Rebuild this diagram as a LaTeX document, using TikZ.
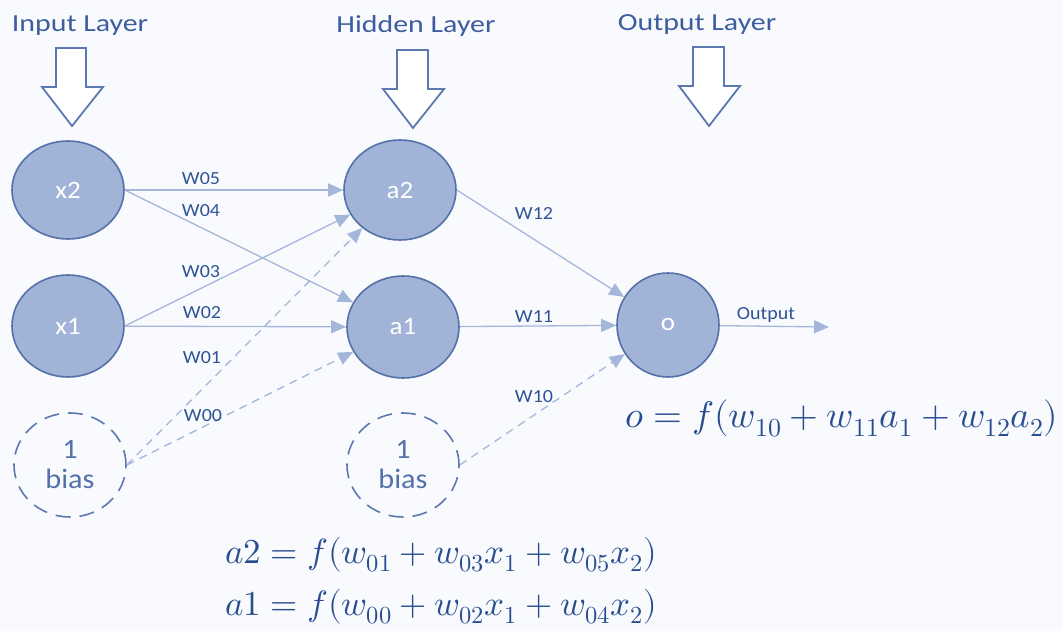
\documentclass[tikz,border=0pt]{standalone}
\usepackage{fontspec}
\usepackage{unicode-math}
\setmainfont{Carlito}
\setmathfont{Latin Modern Math}
\newfontfamily\widefont[FakeStretch=1.22]{Carlito}
\newfontfamily\midfont[FakeStretch=1.08]{Carlito}
\usetikzlibrary{shapes.geometric,arrows.meta}
\definecolor{bgc}{RGB}{249,250,253}
\definecolor{nodefill}{RGB}{161,180,215}
\definecolor{nodedraw}{RGB}{84,113,170}
\definecolor{edgec}{RGB}{164,183,219}
\definecolor{labelc}{RGB}{47,84,150}
\definecolor{titlec}{RGB}{62,93,160}
\definecolor{blockc}{RGB}{92,120,176}
\definecolor{eqc}{RGB}{40,78,145}
\begin{document}
\begin{tikzpicture}[x=1pt,y=-1pt,
  neuron/.style={ellipse, draw=nodedraw, fill=nodefill, line width=1.6pt,
    minimum width=112pt, minimum height=98pt, inner sep=0pt, text=white,
    font=\midfont\fontsize{25}{27}\selectfont},
  outneuron/.style={neuron, minimum width=102pt, minimum height=104pt},
  biasnode/.style={ellipse, draw=blockc, line width=1.6pt,
    dash pattern=on 15pt off 9pt, minimum width=112pt, minimum height=104pt,
    inner sep=0pt, align=center, text=nodedraw,
    font=\midfont\fontsize{28}{30}\selectfont},
  conn/.style={draw=edgec, line width=1.3pt,
    -{Triangle[length=15pt,width=13pt,fill=edgec]}},
  dconn/.style={conn, dash pattern=on 8pt off 6pt},
  wlabel/.style={text=labelc, inner sep=0pt, font=\midfont\fontsize{18.5}{20}\selectfont},
  title/.style={text=titlec, inner sep=0pt, font=\widefont\fontsize{24.5}{26}\selectfont},
  blockarrow/.style={draw=blockc, fill=white, line width=1.8pt, line join=miter},
  eq/.style={text=eqc, inner sep=0pt, anchor=base west}
]
\fill[bgc] (0,0) rectangle (1063,631);
\useasboundingbox (0,0) rectangle (1063,631);

% titles
\node[title] (tin) at (80,26) {Input Layer};
\node[title] (thid) at (416,26) {Hidden Layer};
\node[title] (tout) at (697,25) {Output Layer};

% block arrows
\draw[blockarrow] (56,48) -- (86,48) -- (86,87) -- (103,87) -- (72,126) -- (42,87) -- (56,87) -- cycle;
\draw[blockarrow] (397,50) -- (428,50) -- (428,89) -- (444,89) -- (413,128) -- (383,89) -- (397,89) -- cycle;
\draw[blockarrow] (693,47) -- (724,47) -- (724,86) -- (740,86) -- (709,126) -- (679,86) -- (693,86) -- cycle;

% nodes
\node[neuron] (x2) at (68,190) {x2};
\node[neuron, minimum height=102pt] (x1) at (68,326) {x1};
\node[biasnode] (b1) at (70,465) {1\\bias};
\node[neuron, minimum height=100pt] (a2) at (400,190) {a2};
\node[neuron, minimum height=102pt] (a1) at (403,327) {a1};
\node[biasnode] (b2) at (403,465) {1\\bias};
\node[outneuron] (o) at (668,325) {o};
\coordinate (outend) at (829,327);

% connectors
\draw[conn] (x2) -- (a2);
\draw[conn] (x2.east) -- (a1);
\draw[conn] (x1.east) -- (a2);
\draw[conn] (x1) -- (a1);
\draw[dconn] (b1.east) -- (a2);
\draw[dconn] (b1.east) -- (a1);
\draw[conn] (a2.east) -- (o);
\draw[conn] (a1) -- (o);
\draw[dconn] (b2.east) -- (o);
\draw[conn] (o) -- (outend);

% weight labels
\node[wlabel] (w05) at (201,179) {W05};
\node[wlabel] (w04) at (201,211) {W04};
\node[wlabel] (w03) at (201,272) {W03};
\node[wlabel] (w02) at (202,313) {W02};
\node[wlabel] (w01) at (202,358) {W01};
\node[wlabel] (w00) at (203,416) {W00};
\node[wlabel] (w12) at (534,213) {W12};
\node[wlabel] (w11) at (534,317) {W11};
\node[wlabel] (w10) at (534,397) {W10};
\node[wlabel] (outl) at (766,315) {Output};

% equations
\node[eq, font=\fontsize{37}{39}\selectfont] (eqo) at (625,427) {$o=f(w_{10}+w_{11}a_1+w_{12}a_2)$};
\node[eq, font=\fontsize{35}{37}\selectfont] (eqa2) at (225,563) {$a2=f(w_{01}+w_{03}x_1+w_{05}x_2)$};
\node[eq, font=\fontsize{35}{37}\selectfont] (eqa1) at (225,615) {$a1=f(w_{00}+w_{02}x_1+w_{04}x_2)$};
\end{tikzpicture}
\end{document}
